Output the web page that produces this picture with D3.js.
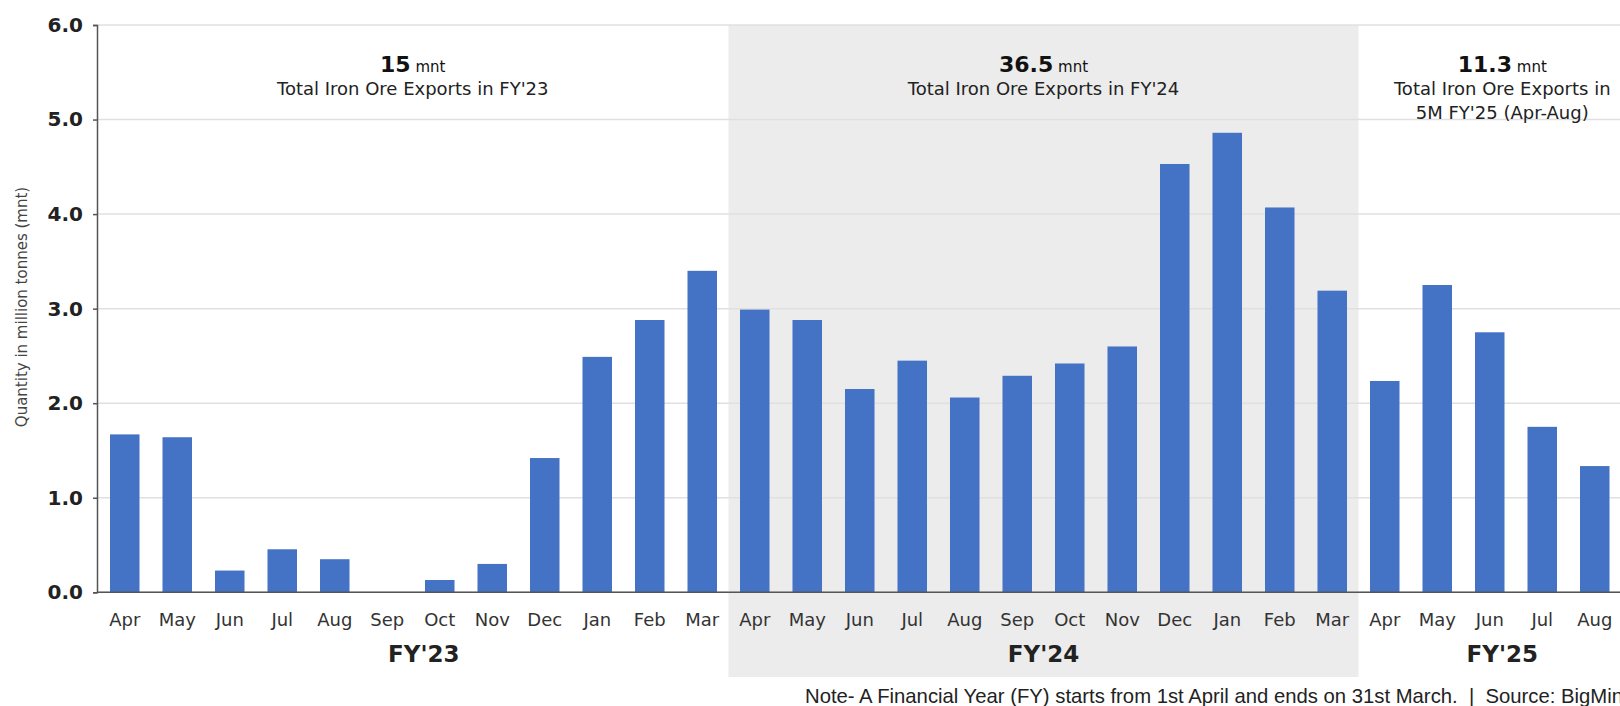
<!DOCTYPE html>
<html>
<head>
<meta charset="utf-8">
<script src="https://cdnjs.cloudflare.com/ajax/libs/d3/7.8.5/d3.min.js"></script>
<style>
	html, body { margin: 0; padding: 0; background: #fff; overflow: hidden; }
	svg { display: block; font-family: "DejaVu Sans", sans-serif; }
</style>
</head>
<body>
<div class="chart"></div>
<script>
	// monthly iron ore exports, million tonnes
	var months = ['Apr','May','Jun','Jul','Aug','Sep','Oct','Nov','Dec','Jan','Feb','Mar',
		'Apr','May','Jun','Jul','Aug','Sep','Oct','Nov','Dec','Jan','Feb','Mar',
		'Apr','May','Jun','Jul','Aug'];
	var fy23 = [1.67, 1.64, 0.23, 0.455, 0.35, 0, 0.13, 0.30, 1.42, 2.49, 2.88, 3.40];
	var fy24 = [2.99, 2.88, 2.15, 2.45, 2.06, 2.29, 2.42, 2.60, 4.53, 4.86, 4.07, 3.19];
	var fy25 = [2.235, 3.25, 2.75, 1.75, 1.335];
	var yTicks = [0, 1, 2, 3, 4, 5, 6];

	var fyNames = ["FY'23", "FY'24", "FY'25"];
	var fyTotals = ['15', '36.5', '11.3'];
	var fyNotes = [["Total Iron Ore Exports in FY'23"],
		["Total Iron Ore Exports in FY'24"],
		["Total Iron Ore Exports in", "5M FY'25 (Apr-Aug)"]];

	var values = fy23.concat(fy24).concat(fy25);

	var W = 1620, H = 706;
	var plotLeft = 97, plotTop = 25, plotBottom = 592.3;
	var plotRight = 1646; // original plot runs past the visible edge

	var svg = d3.select('.chart').append('svg')
		.attr('width', W)
		.attr('height', H);

	var x = d3.scaleBand()
		.domain(d3.range(months.length))
		.range([98.5, 1621])
		.paddingInner(0.438)
		.paddingOuter(0.219);

	var y = d3.scaleLinear()
		.domain([0, 6])
		.range([plotBottom, plotTop]);

	var half = x.step() * x.paddingInner() / 2;

	// year spans
	var groups = [
		{start: 0, end: x(11) + x.bandwidth() + half, shift: 11},
		{start: 12, end: x(23) + x.bandwidth() + half, shift: 0},
		{start: 24, end: plotRight, shift: 0}
	];
	groups.forEach(function(g, i){
		g.x0 = i == 0 ? plotLeft : x(g.start) - half;
		g.cx = (g.x0 + g.end) / 2;
	});

	// shaded FY'24 block
	svg.append('rect')
		.attr('x', groups[1].x0)
		.attr('y', plotTop)
		.attr('width', groups[1].end - groups[1].x0)
		.attr('height', 677 - plotTop)
		.attr('fill', '#ebeceb');

	// gridlines
	svg.selectAll('.grid')
		.data(yTicks)
		.enter().append('line')
		.attr('x1', plotLeft)
		.attr('x2', W)
		.attr('y1', function(d){ return y(d); })
		.attr('y2', function(d){ return y(d); })
		.attr('stroke', '#e0e0e0')
		.attr('stroke-width', 1.5);

	// bars
	svg.selectAll('.bar')
		.data(values)
		.enter().append('rect')
		.attr('x', function(d, i){ return x(i); })
		.attr('y', function(d){ return y(d); })
		.attr('width', x.bandwidth())
		.attr('height', function(d){ return y(0) - y(d); })
		.attr('fill', '#4472c4');

	// y axis
	var yAxis = svg.append('g')
		.attr('transform', 'translate(' + plotLeft + ',0)')
		.call(d3.axisLeft(y).tickValues(yTicks).tickFormat(d3.format('.1f')).tickSizeOuter(0).tickSize(4).tickPadding(10));
	yAxis.select('.domain').attr('stroke', '#555').attr('stroke-width', 1.5);
	yAxis.selectAll('.tick line').attr('stroke', '#555').attr('stroke-width', 1.5);
	yAxis.selectAll('.tick text')
		.attr('font-family', 'DejaVu Sans')
		.attr('font-size', 20)
		.attr('font-weight', 'bold')
		.attr('fill', '#222');

	// x baseline
	svg.append('line')
		.attr('x1', plotLeft)
		.attr('x2', W)
		.attr('y1', y(0))
		.attr('y2', y(0))
		.attr('stroke', '#555')
		.attr('stroke-width', 1.5);

	// month labels
	svg.selectAll('.month')
		.data(months)
		.enter().append('text')
		.attr('x', function(d, i){ return x(i) + x.bandwidth() / 2; })
		.attr('y', 626)
		.attr('text-anchor', 'middle')
		.attr('font-size', 18)
		.attr('fill', '#333')
		.text(function(d){ return d; });

	// FY labels
	svg.selectAll('.fy')
		.data(groups)
		.enter().append('text')
		.attr('x', function(d){ return d.cx + d.shift; })
		.attr('y', 662)
		.attr('text-anchor', 'middle')
		.attr('font-size', 23)
		.attr('font-weight', 'bold')
		.attr('fill', '#222')
		.text(function(d, i){ return fyNames[i]; });

	// totals annotations
	groups.forEach(function(g, i){
		var t = svg.append('text')
			.attr('x', g.cx)
			.attr('y', 72)
			.attr('text-anchor', 'middle')
			.attr('fill', '#111');
		t.append('tspan')
			.attr('font-size', 22)
			.attr('font-weight', 'bold')
			.text(fyTotals[i]);
		t.append('tspan')
			.attr('font-size', 15)
			.text(' mnt');

		fyNotes[i].forEach(function(line, j){
			svg.append('text')
				.attr('x', g.cx)
				.attr('y', 95 + j * 23.5)
				.attr('text-anchor', 'middle')
				.attr('font-size', 18)
				.attr('fill', '#222')
				.text(line);
		});
	});

	// y title
	svg.append('text')
		.attr('transform', 'translate(27,307) rotate(-90)')
		.attr('text-anchor', 'middle')
		.attr('font-size', 15)
		.attr('fill', '#444')
		.text('Quantity in million tonnes (mnt)');

	// footnote
	svg.append('text')
		.attr('x', 805)
		.attr('y', 703)
		.attr('font-family', 'Liberation Sans')
		.attr('font-size', 20.3)
		.attr('fill', '#222')
		.attr('xml:space', 'preserve')
		.text('Note- A Financial Year (FY) starts from 1st April and ends on 31st March.  |  Source: BigMint');
</script>
</body>
</html>
